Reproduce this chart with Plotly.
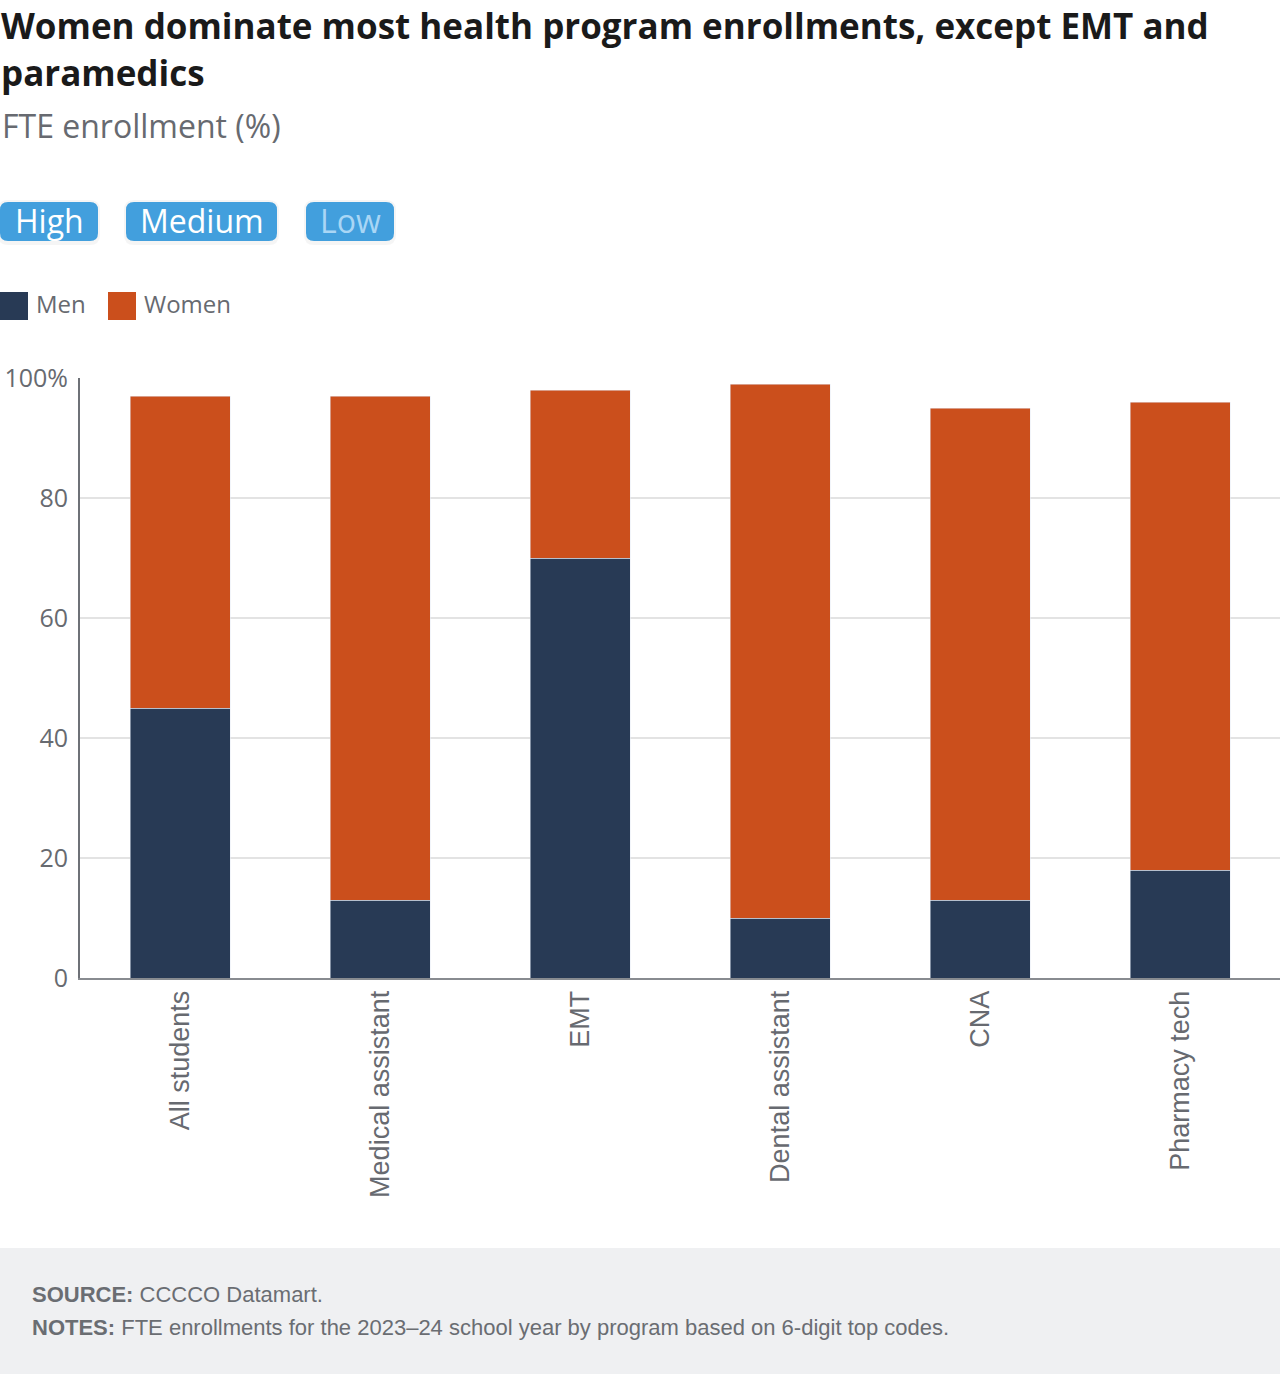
import plotly.graph_objects as go

categories = ["All students", "Medical assistant", "EMT", "Dental assistant", "CNA", "Pharmacy tech"]
men = [45, 13, 70, 10, 13, 18]
women = [52, 84, 28, 89, 82, 78]
y_tickvals = [0, 20, 40, 60, 80, 100]
y_ticktext = ["0", "20", "40", "60", "80", "100%"]

NAVY = "#283a55"
ORANGE = "#cb4f1c"
BLUE = "#429fdd"
GREY = "#676a70"
FONT = "Open Sans"
ARIAL = "Liberation Sans"

W, H = 1280, 1374
L, R, T, B = 80, 1280, 378, 978


def px(x):
    return (x - L) / (R - L)


def py(y):
    return (B - y) / (B - T)


fig = go.Figure()
fig.add_trace(go.Bar(x=categories, y=men, name="Men", marker_color=NAVY, width=0.5))
fig.add_trace(go.Bar(x=categories, y=women, name="Women", marker_color=ORANGE, width=0.5))

shapes = []
annotations = []

# footer background
shapes.append(dict(type="rect", xref="paper", yref="paper", x0=px(0), x1=px(W), y0=py(1248), y1=py(H),
                   fillcolor="#eff0f2", line_width=0, layer="below"))


def rounded(x0, y0, x1, y1, r):
    X = lambda v: px(v)
    Y = lambda v: py(v)
    return (f"M {X(x0 + r)} {Y(y0)} L {X(x1 - r)} {Y(y0)} Q {X(x1)} {Y(y0)} {X(x1)} {Y(y0 + r)} "
            f"L {X(x1)} {Y(y1 - r)} Q {X(x1)} {Y(y1)} {X(x1 - r)} {Y(y1)} "
            f"L {X(x0 + r)} {Y(y1)} Q {X(x0)} {Y(y1)} {X(x0)} {Y(y1 - r)} "
            f"L {X(x0)} {Y(y0 + r)} Q {X(x0)} {Y(y0)} {X(x0 + r)} {Y(y0)} Z")


buttons = [("High", 0, 98, "white"), ("Medium", 126, 277, "white"), ("Low", 306, 394, "#a9d6f5")]
for label, x0, x1, tc in buttons:
    # faint shadow
    shapes.append(dict(type="path", xref="paper", yref="paper", path=rounded(x0 - 2, 200, x1 + 2, 245, 10),
                       fillcolor="rgba(0,0,0,0.04)", line_width=0))
    shapes.append(dict(type="path", xref="paper", yref="paper", path=rounded(x0, 202, x1, 241, 8),
                       fillcolor=BLUE, line_width=0))
    annotations.append(dict(text=label, xref="paper", yref="paper", x=px((x0 + x1) / 2), y=py(221),
                            xanchor="center", yanchor="middle", showarrow=False,
                            font=dict(family=FONT, size=32, color=tc)))

# legend
for name, color, x0, tx in [("Men", NAVY, 0, 34), ("Women", ORANGE, 108, 142)]:
    shapes.append(dict(type="rect", xref="paper", yref="paper", x0=px(x0), x1=px(x0 + 28),
                       y0=py(292), y1=py(320), fillcolor=color, line_width=0))
    annotations.append(dict(text=name, xref="paper", yref="paper", x=px(tx), y=py(303),
                            xanchor="left", yanchor="middle", showarrow=False,
                            font=dict(family=FONT, size=24, color=GREY)))

# title & subtitle
annotations.append(dict(text="<b>Women dominate most health program enrollments, except EMT and</b>",
                        xref="paper", yref="paper", x=px(-1), y=py(25), xanchor="left", yanchor="middle",
                        align="left", showarrow=False,
                        font=dict(family=FONT, size=35, color="#1a1a1a")))
annotations.append(dict(text="<b>paramedics</b>",
                        xref="paper", yref="paper", x=px(-1), y=py(72), xanchor="left", yanchor="middle",
                        align="left", showarrow=False,
                        font=dict(family=FONT, size=35, color="#1a1a1a")))
annotations.append(dict(text="FTE enrollment (%)", xref="paper", yref="paper", x=px(0), y=py(125),
                        xanchor="left", yanchor="middle", showarrow=False,
                        font=dict(family=FONT, size=32, color=GREY)))

# footer text
annotations.append(dict(text="<b>SOURCE:</b> CCCCO Datamart.", xref="paper", yref="paper",
                        x=px(30), y=py(1294), xanchor="left", yanchor="middle", showarrow=False,
                        font=dict(family=ARIAL, size=22, color="#6a6d72")))
annotations.append(dict(text="<b>NOTES:</b> FTE enrollments for the 2023\u201324 school year by program based on 6-digit top codes.",
                        xref="paper", yref="paper", x=px(30), y=py(1327), xanchor="left", yanchor="middle",
                        showarrow=False, font=dict(family=ARIAL, size=22, color="#6a6d72")))

fig.update_layout(
    barmode="stack",
    width=W, height=H,
    margin=dict(l=L, r=W - R, t=T, b=H - B, pad=0),
    paper_bgcolor="white", plot_bgcolor="white",
    showlegend=False,
    shapes=shapes,
    annotations=annotations,
    font=dict(family=FONT, color=GREY),
    xaxis=dict(tickangle=-90, tickfont=dict(family=ARIAL, size=27, color=GREY),
               showline=True, linecolor="#888b90", linewidth=2, ticks="", showgrid=False),
    yaxis=dict(range=[0, 100], tickvals=y_tickvals, ticktext=y_ticktext,
               tickfont=dict(family=FONT, size=25, color=GREY),
               showline=True, linecolor="#6e7177", linewidth=2, gridcolor="#e3e3e3", gridwidth=2,
               ticks="outside", ticklen=5, tickcolor="rgba(0,0,0,0)", zeroline=False),
)

fig.write_html("out.html")
